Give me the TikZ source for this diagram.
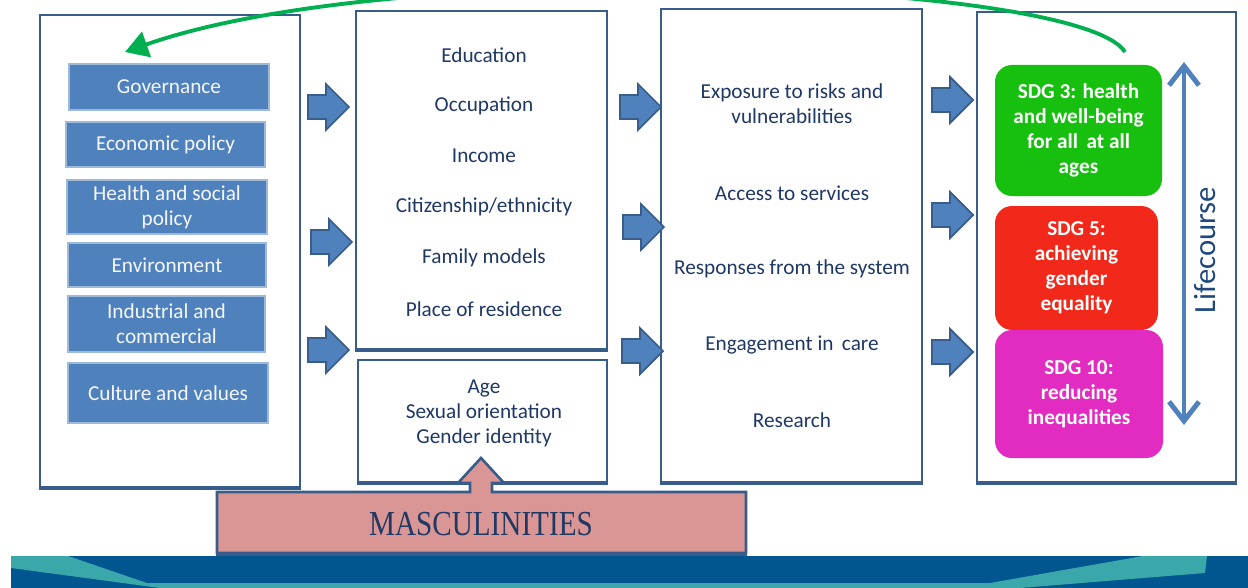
\documentclass[tikz,border=0pt]{standalone}
\usepackage{fontspec}
\setmainfont{Carlito}
\newfontfamily\capsserif{Liberation Serif}
\usetikzlibrary{arrows.meta}

\definecolor{bdr}{HTML}{385D8A}
\definecolor{boxblue}{HTML}{4F81BD}
\definecolor{navy}{HTML}{1F3864}
\definecolor{lifeblue}{HTML}{1F497D}
\definecolor{sdggreen}{HTML}{17BF0F}
\definecolor{sdgred}{HTML}{F2281A}
\definecolor{sdgmag}{HTML}{E22BC0}
\definecolor{loopgreen}{HTML}{00B050}
\definecolor{pinkfill}{HTML}{D99694}
\definecolor{bandblue}{HTML}{02568F}
\definecolor{bandteal}{HTML}{3AA8AA}

\newcommand\boxfont{\fontsize{12.1}{14.2}\selectfont}

\tikzset{
  blockarr/.pic={
    \draw[fill=boxblue, draw=bdr, line width=1pt, line join=miter]
      (0,-12) -- (18,-12) -- (18,-23) -- (41,0) -- (18,23) -- (18,12) -- (0,12) -- cycle;
  }
}

\begin{document}
\begin{tikzpicture}[x=0.02cm, y=-0.02cm,
  size/.style args={#1x#2}{minimum width=#1*0.02cm, minimum height=#2*0.02cm},
  frame/.style={draw=bdr, line width=1.5pt, fill=white, inner sep=0pt, outer sep=0pt},
  frameshade/.style={draw=bdr, line width=1.5pt, line cap=rect},
  pbox/.style={fill=boxblue, draw=boxblue!55!white, line width=0.6pt,
    text=white!94!boxblue, align=center, inner sep=0pt, font=\boxfont},
  navytxt/.style={text=navy, align=center, inner sep=0pt, font=\boxfont},
  sdg/.style={rounded corners=0.34cm, text=white, align=center, inner sep=0pt,
    font=\boxfont\bfseries},
]
\useasboundingbox (0,0) rectangle (1248,588);
\fill[white] (0,0) rectangle (1248,588);

% bottom band
\fill[bandblue] (11,556) rectangle (1248,588);
\fill[bandteal] (11,556) -- (68,556) -- (147,583) -- (990,583) -- (1143,556)
  -- (1207,556) -- (1205,573) -- (1020,588) -- (160,588) -- (11,568) -- cycle;

% column frames, each with a heavier lower edge
\node[frame, size=260x472] (policy) at (170,251) {};
\node[frame, size=251x338] (strat) at (481.5,180) {};
\node[frame, size=249x122] (ident) at (482.5,421) {};
\node[frame, size=261x473] (health) at (791.5,245.5) {};
\node[frame, size=259x470] (goals) at (1106.5,247) {};
\foreach \f in {policy,strat,ident,health,goals}
  \draw[frameshade] ([yshift=-1.2pt]\f.south west) -- ([yshift=-1.2pt]\f.south east);

% structural determinants
\node[pbox, size=200x46] (gov) at (169,87) {Governance};
\node[pbox, size=199x45] (econ) at (165.5,144.5) {Economic policy};
\node[pbox, size=200x54] (hsp) at (167,207) {Health and social\\policy};
\node[pbox, size=198x44] (env) at (167,265) {Environment};
\node[pbox, size=197x56] (ind) at (166.5,324) {Industrial and\\commercial};
\node[pbox, size=200x60] (cult) at (168,393) {Culture and values};

% social stratifiers
\node[navytxt] (edu) at (484,55) {Education};
\node[navytxt] (occ) at (484,106) {Occupation};
\node[navytxt] (inc) at (484,156) {Income};
\node[navytxt] (cit) at (484,207) {Citizenship/ethnicity};
\node[navytxt] (fam) at (484,258) {Family models};
\node[navytxt] (res) at (484,309) {Place of residence};
\node[navytxt] (idtxt) at (484,413) {Age\\Sexual orientation\\Gender identity};

% health system
\node[navytxt] (expo) at (792,103.5) {Exposure to risks and\\vulnerabilities};
\node[navytxt] (acc) at (792,193) {Access to services};
\node[navytxt] (resp) at (792,269) {Responses from the system};
\node[navytxt] (eng) at (792,345) {Engagement in\, care};
\node[navytxt] (rsch) at (792,420) {Research};

% goals
\node[sdg, fill=sdggreen, size=167x131] (sdg3) at (1078.5,130.5)
  {SDG 3: health\\and well-being\\for all\, at all\\ages};
\node[sdg, fill=sdgred, size=163x124] (sdg5) at (1076.5,268)
  {SDG 5:\\achieving\\gender\\equality};
\node[sdg, fill=sdgmag, size=168x128] (sdg10) at (1079,394)
  {SDG 10:\\reducing\\inequalities};

% lifecourse axis
\coordinate (lifetop) at (1184,62);
\coordinate (lifebot) at (1184,425);
\draw[boxblue, line width=2.8pt,
  {Straight Barb[length=11pt,width=17pt]}-{Straight Barb[length=11pt,width=17pt]}]
  (lifebot) -- (lifetop);
\node[rotate=90, text=lifeblue, inner sep=0pt, font=\fontsize{17.5}{20}\selectfont]
  (life) at (1205,250) {Lifecourse};

% block arrows between columns
\pic at (308,107) {blockarr};
\pic at (311,242) {blockarr};
\pic at (308,350) {blockarr};
\pic at (620,107) {blockarr};
\pic at (623,227) {blockarr};
\pic at (622,351) {blockarr};
\pic at (932,100) {blockarr};
\pic at (932,215) {blockarr};
\pic at (932,352) {blockarr};

% feedback loop
\coordinate (loopstart) at (1125,52);
\coordinate (loopend) at (125,52);
\draw[loopgreen, line width=2.2pt, -{Triangle[length=13pt,width=15pt]}]
  (loopstart) .. controls (1080,-20) and (400,-45) .. (loopend);

% masculinities
\draw[fill=pinkfill, draw=bdr, line width=1.5pt, line join=miter]
  (217,492) -- (470,492) -- (470,483) -- (458,483) -- (481,458) -- (504,483)
  -- (492,483) -- (492,492) -- (746,492) -- (746,553) -- (217,553) -- cycle;
\coordinate (mascbase) at (217,553);
\draw[frameshade] ([yshift=-1.2pt]mascbase) -- ([yshift=-1.2pt]746,553);
\node[text=navy, inner sep=0pt, font=\capsserif\fontsize{20}{24}\selectfont]
  (masc) at (481,524) {\scalebox{0.83}[1]{MASCULINITIES}};
\end{tikzpicture}
\end{document}
